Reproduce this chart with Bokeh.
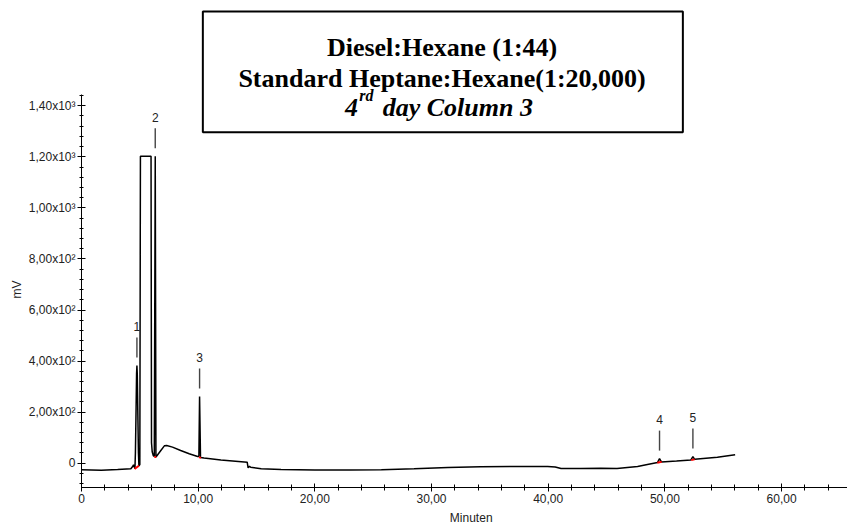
import math
from bokeh.plotting import figure
from bokeh.models import Range1d, FixedTicker, Label, BoxAnnotation, ColumnDataSource
from bokeh.core.properties import value
from bokeh.embed import file_html
from bokeh.resources import INLINE

# ---- chromatogram trace (retention time in minutes, signal in mV) ----
time_min = [0.0, 1.7, 3.1, 4.23, 4.40, 4.46, 4.52, 4.58, 4.62, 4.68, 4.72, 4.75, 4.78, 4.82,
            4.88, 4.92, 5.00, 5.05, 5.96, 6.00, 6.06, 6.15, 6.24, 6.32, 6.38, 6.45, 6.8, 7.1,
            7.3, 7.8, 8.5, 9.23, 9.95, 10.06, 10.12, 10.20, 10.5, 11.95, 13.2, 14.20, 14.28,
            14.40, 14.50, 15.4, 17.1, 20.0, 23.0, 25.7, 28.5, 31.4, 34.2, 37.1, 39.95, 40.6,
            41.1, 42.8, 44.5, 45.9, 47.66, 48.5, 49.37, 49.54, 49.70, 51.0, 52.23, 52.40,
            52.55, 54.5, 56.02]
signal_mv = [-26, -28, -25, -22, -12, -6, -14, -22, 40, 220, 350, 383, 350, 220,
             40, -10, -5, 1202, 1202, 80, 45, 30, 27, 1202, 24, 28, 50, 68,
             69, 63, 50, 37, 26, 27, 261, 22, 20, 13, 8, 4, -18,
             -12, -16, -22, -25, -27, -27, -26, -22, -17, -14, -13, -13, -15,
             -21, -21, -20, -21, -13, -5, 3, 18, 5, 9, 13, 26,
             15, 23, 33]

# ---- peak annotations ----
peak_ids = ["1", "2", "3", "4", "5"]
peak_times = [4.75, 6.32, 10.12, 49.54, 52.40]
peak_heights = [383, 1202, 261, 18, 26]

# ---- integration baselines (red marks) ----
base_t0 = [4.55, 6.24, 10.06, 49.35, 52.25]
base_v0 = [-22, 24, 24, 2, 12]
base_t1 = [4.92, 6.40, 10.24, 49.72, 52.55]
base_v1 = [-10, 24, 21, 6, 15]

# ---- ticks ----
x_tick_values = [0, 10, 20, 30, 40, 50, 60]
x_tick_labels = ["0", "10,00", "20,00", "30,00", "40,00", "50,00", "60,00"]
x_minor_ticks = [2, 4, 6, 8, 12, 14, 16, 18, 22, 24, 26, 28, 32, 34, 36, 38, 42, 44, 46, 48,
                 52, 54, 56, 58, 62, 64]
y_tick_values = [0, 200, 400, 600, 800, 1000, 1200, 1400]
y_tick_labels = ["0", "2,00x10\u00b2", "4,00x10\u00b2", "6,00x10\u00b2", "8,00x10\u00b2",
                 "1,00x10\u00b3", "1,20x10\u00b3", "1,40x10\u00b3"]
y_minor_ticks = [-80, -40, 40, 80, 120, 160, 240, 280, 320, 360, 440, 480, 520, 560, 640, 680,
                 720, 760, 840, 880, 920, 960, 1040, 1080, 1120, 1160, 1240, 1280, 1320, 1360, 1440]

title_line1 = "Diesel:Hexane (1:44)"
title_line2 = "Standard Heptane:Hexane(1:20,000)"
title_line3a = "4"
title_line3b = "rd"
title_line3c = "day Column 3"

PX_PER_MV = 0.2553
PX_PER_MIN = 11.668
AXIS_Y = -95.2          # where the time axis sits (mV)
AXIS_TOP = 1443         # top end of the signal axis (mV)
X_MIN, X_MAX = -81 / PX_PER_MIN, 65.65
Y_MAX = 462.7 / PX_PER_MV
Y_MIN = -(526 - 462.7) / PX_PER_MV

p = figure(width=847, height=526, x_range=Range1d(X_MIN, X_MAX), y_range=Range1d(Y_MIN, Y_MAX),
           output_backend="svg", toolbar_location=None,
           min_border_left=0, min_border_right=0, min_border_top=0, min_border_bottom=0)
p.title.visible = False
p.outline_line_color = None
p.xgrid.visible = False
p.ygrid.visible = False
p.background_fill_color = "white"
p.border_fill_color = "white"

FONT = "Liberation Sans"
SERIF = "Liberation Serif"

xa = p.xaxis[0]
xa.ticker = FixedTicker(ticks=x_tick_values, minor_ticks=x_minor_ticks)
xa.major_label_overrides = dict(zip(x_tick_values, x_tick_labels))
xa.bounds = (0, X_MAX)
xa.fixed_location = AXIS_Y
ya = p.yaxis[0]
ya.ticker = FixedTicker(ticks=y_tick_values, minor_ticks=y_minor_ticks)
ya.major_label_overrides = dict(zip(y_tick_values, y_tick_labels))
ya.bounds = (AXIS_Y, AXIS_TOP)
ya.fixed_location = 0
for ax in (xa, ya):
    ax.axis_line_color = "black"
    ax.axis_line_width = 1
    ax.major_tick_line_color = "black"
    ax.minor_tick_line_color = "black"
    ax.major_tick_in = 4
    ax.major_tick_out = 4
    ax.major_label_text_font = FONT
    ax.major_label_text_font_size = "12px"
    ax.major_label_text_color = "#222222"
    ax.major_label_standoff = 2
xa.minor_tick_in = 3
xa.minor_tick_out = 3
ya.minor_tick_in = 2
ya.minor_tick_out = 2
ya.major_label_orientation = "horizontal"

# trace
src = ColumnDataSource(dict(t=time_min, v=signal_mv))
p.line("t", "v", source=src, line_color="black", line_width=1.5)

# integration baselines
bsrc = ColumnDataSource(dict(x0=base_t0, y0=base_v0, x1=base_t1, y1=base_v1))
p.segment("x0", "y0", "x1", "y1", source=bsrc, line_color="red", line_width=2)

# peak markers
mk_bottom = [h + 8 / PX_PER_MV for h in peak_heights]
mk_top = [h + 28 / PX_PER_MV for h in peak_heights]
msrc = ColumnDataSource(dict(x=peak_times, y0=mk_bottom, y1=mk_top, h=peak_heights, lab=peak_ids))
p.segment("x", "y0", "x", "y1", source=msrc, line_color="#444444", line_width=1.4)
p.text("x", "h", text="lab", source=msrc, y_offset=-39, text_align="center",
       text_baseline="middle", text_font=value(FONT), text_font_size="12px",
       text_color="#222222")

# axis titles
p.add_layout(Label(x=-5.57, y=680, text="mV", angle=math.pi / 2, text_align="center",
                   text_baseline="middle", text_font=FONT, text_font_size="12px",
                   text_color="#222222"))
p.add_layout(Label(x=33.4, y=-216, text="Minuten", text_align="center",
                   text_baseline="middle", text_font=FONT, text_font_size="12px",
                   text_color="#222222"))

# title box
p.add_layout(BoxAnnotation(left=10.40, right=51.54, bottom=1296.5, top=1769,
                           fill_color="white", fill_alpha=1.0, line_color="black",
                           line_width=2, line_alpha=1.0))
cx = 30.9
p.add_layout(Label(x=cx, y=1629, text=title_line1, text_align="center", text_baseline="alphabetic",
                   text_font=SERIF, text_font_style="bold", text_font_size="26px", text_color="black"))
p.add_layout(Label(x=cx, y=1508, text=title_line2, text_align="center", text_baseline="alphabetic",
                   text_font=SERIF, text_font_style="bold", text_font_size="26px", text_color="black"))
p.add_layout(Label(x=23.69, y=1394, text=title_line3a, text_align="right", text_baseline="alphabetic",
                   text_font=SERIF, text_font_style="bold italic", text_font_size="26px", text_color="black"))
p.add_layout(Label(x=23.80, y=1440, text=title_line3b, text_align="left", text_baseline="alphabetic",
                   text_font=SERIF, text_font_style="bold italic", text_font_size="16px", text_color="black"))
p.add_layout(Label(x=25.81, y=1394, text=title_line3c, text_align="left", text_baseline="alphabetic",
                   text_font=SERIF, text_font_style="bold italic", text_font_size="26px", text_color="black"))

open("out.html", "w").write(file_html(p, INLINE))
